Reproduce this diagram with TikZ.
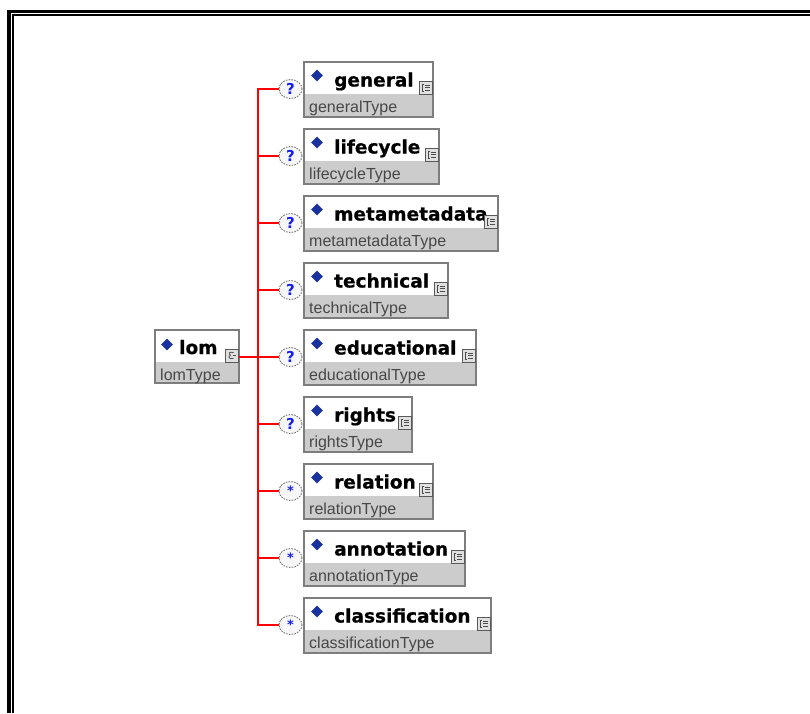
\documentclass[tikz,border=0pt]{standalone}
\usepackage{fontspec}
\newfontfamily\lblfont{DejaVu Sans Bold}[FakeBold=0.6]
\newfontfamily\markfont{DejaVu Sans Bold}
\newfontfamily\typfont{Liberation Sans}
\usetikzlibrary{shapes.geometric}

\definecolor{wire}{RGB}{255,0,0}
\definecolor{boxedge}{RGB}{125,125,125}
\definecolor{typefill}{RGB}{204,204,204}
\definecolor{diamblue}{RGB}{25,50,160}
\definecolor{qblue}{RGB}{20,30,235}

\tikzset{
  elembox/.style={rectangle, fill=white, minimum height=55pt, inner sep=0pt, outer sep=0pt},
  boxline/.style={draw=boxedge, line width=1.3pt},
  diam/.style={diamond, fill=diamblue, inner sep=0pt, minimum width=12pt, minimum height=12pt},
  lbl/.style={anchor=base west, inner sep=0pt, font=\lblfont\fontsize{18.5}{20}\selectfont},
  typ/.style={anchor=base west, inner sep=0pt, text=black!72, font=\typfont\fontsize{16}{18}\selectfont},
  occ/.style={ellipse, draw=black!55, dash pattern=on 1.6pt off 1.2pt, line width=0.9pt,
    fill=black!3, minimum width=23pt, minimum height=19pt, inner sep=0pt, text=qblue,
    font=\markfont\fontsize{15}{15}\selectfont},
  wire/.style={draw=wire, line width=1.2pt},
  icon/.style={draw=black!65, fill=black!12, line width=0.8pt},
  glyph/.style={draw=black!70, line width=0.8pt},
}

% element box: name, left, top, right, label, type name
\newcommand\elem[6]{%
  \pgfmathsetmacro\bw{#4-#2}%
  \node[elembox, minimum width=\bw pt, anchor=north west] (#1) at (#2,#3) {};
  \fill[typefill] (#2,#3+32) rectangle (#4,#3+55);
  \draw[boxline] (#1.north west) rectangle (#1.south east);
  \node[diam] (#1-d) at (#2+13,#3+13.5) {};
  \node[lbl] (#1-l) at (#2+30,#3+24.5) {#5};
  \node[typ] (#1-t) at (#2+5,#3+50) {#6};
  \draw[icon] (#4-14,#3+19) rectangle (#4-1,#3+32);
}
% sequence glyph inside a child icon
\newcommand\seqglyph[2]{%
  \draw[glyph] (#1-9,#2+22.5) -- (#1-11,#2+22.5) -- (#1-11,#2+29) -- (#1-9,#2+29);
  \draw[glyph] (#1-8,#2+23.3) -- (#1-3.5,#2+23.3);
  \draw[glyph] (#1-8,#2+25.7) -- (#1-3.5,#2+25.7);
  \draw[glyph] (#1-8,#2+28.1) -- (#1-3.5,#2+28.1);
}
% child row: name, top, right, label, occurrence mark
\newcommand\child[5]{%
  \elem{#1}{304}{#2}{#3}{#4}{#4Type}
  \seqglyph{#3}{#2}
  \node[occ] (q-#1) at (290.5,#2+27) {#5};
  \draw[wire] (j) |- (q-#1.west);
}
\newcommand\manymark{\raisebox{-3.5pt}{\fontsize{13}{13}\selectfont*}}

\begin{document}
\begin{tikzpicture}[x=1pt,y=-1pt]
\useasboundingbox (0,0) rectangle (810,713);
\clip (0,0) rectangle (810,713);

% double frame
\fill[black] (7,10) rectangle (11,713);
\fill[black] (7,10) rectangle (810,13.3);
\fill[black] (12,14.3) rectangle (14,713);
\fill[black] (12,14.3) rectangle (810,16.3);

% root element
\node[elembox, minimum width=84pt, minimum height=53pt, anchor=north west] (lom) at (155,330) {};
\fill[typefill] (155,362) rectangle (239,383);
\draw[boxline] (lom.north west) rectangle (lom.south east);
\node[diam] (lom-d) at (167,344.5) {};
\node[lbl] (lom-l) at (179,354) {lom};
\node[typ] (lom-t) at (160,380) {lomType};
\draw[icon] (225,349) rectangle (238,362);
\draw[glyph] (233.5,352.5) .. controls (229,351.5) and (228,353.5) .. (230.5,355.2)
  .. controls (227.5,356.5) and (229,359.5) .. (233.5,358.5);
\draw[glyph] (233,355.2) -- (235.5,355.2);

\coordinate (j) at (258,357);
\draw[wire] (lom.east |- j) -- (j);

\child{general}{62}{433}{general}{?}
\child{lifecycle}{129}{439}{lifecycle}{?}
\child{metametadata}{196}{498}{metametadata}{?}
\child{technical}{263}{448}{technical}{?}
\child{educational}{330}{476}{educational}{?}
\child{rights}{397}{412}{rights}{?}
\child{relation}{464}{433}{relation}{\manymark}
\child{annotation}{531}{465}{annotation}{\manymark}
\child{classification}{598}{491}{classification}{\manymark}
\end{tikzpicture}
\end{document}
